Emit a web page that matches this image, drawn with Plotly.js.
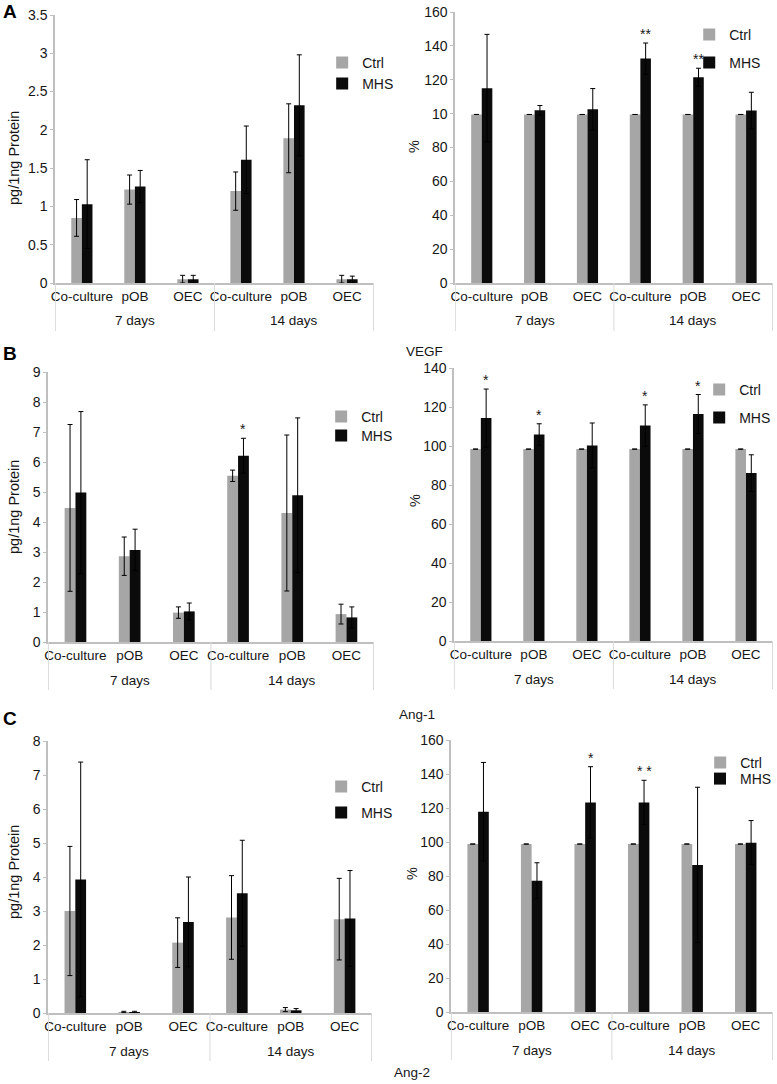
<!DOCTYPE html>
<html>
<head>
<meta charset="utf-8">
<script src="https://cdn.plot.ly/plotly-3.0.1.min.js"></script>
<style>html,body{margin:0;padding:0;background:#fff;}#chart{width:777px;height:1084px;}</style>
</head>
<body>
<div id="chart"></div>
<script>
// ---- categories ----
const days = ['7 days','7 days','7 days','14 days','14 days','14 days'];
const cells = ['Co-culture','pOB','OEC','Co-culture','pOB','OEC'];
const seriesNames = ['Ctrl','MHS'];

// ---- VEGF, pg/1ng protein ----
const vegfPgCtrl    = [0.85, 1.22, 0.05, 1.20, 1.89, 0.05];
const vegfPgCtrlErr = [0.24, 0.19, 0.05, 0.25, 0.45, 0.05];
const vegfPgMhs     = [1.03, 1.26, 0.05, 1.61, 2.32, 0.05];
const vegfPgMhsErr  = [0.58, 0.21, 0.05, 0.44, 0.66, 0.04];
const vegfPgSig     = ['', '', '', '', '', ''];

// ---- VEGF, % ----
const vegfPctCtrl    = [99.5, 99.5, 99.5, 99.5, 99.5, 99.5];
const vegfPctCtrlErr = [0, 0, 0, 0, 0, 0];
const vegfPctMhs     = [115.0, 102.0, 102.6, 132.5, 121.5, 101.8];
const vegfPctMhsErr  = [31.8, 2.8, 12.2, 9.2, 5.3, 10.8];
const vegfPctSig     = ['', '', '', '**', '**', ''];
const vegfPctTickVals = [0, 20, 40, 60, 80, 100, 120, 140, 160];
const vegfPctTickText = ['0', '20', '40', '60', '80', '10', '120', '140', '160'];

// ---- Ang-1, pg/1ng protein ----
const ang1PgCtrl    = [4.47, 2.86, 0.98, 5.54, 4.30, 0.93];
const ang1PgCtrlErr = [2.78, 0.64, 0.19, 0.19, 2.60, 0.33];
const ang1PgMhs     = [4.98, 3.07, 1.02, 6.21, 4.89, 0.82];
const ang1PgMhsErr  = [2.70, 0.69, 0.28, 0.58, 2.58, 0.35];
const ang1PgSig     = ['', '', '', '*', '', ''];

// ---- Ang-1, % ----
const ang1PctCtrl    = [98.4, 98.4, 98.4, 98.4, 98.4, 98.4];
const ang1PctCtrlErr = [0, 0, 0, 0, 0, 0];
const ang1PctMhs     = [114.3, 105.9, 100.3, 110.5, 116.4, 86.1];
const ang1PctMhsErr  = [14.9, 5.5, 11.5, 10.6, 10.0, 9.4];
const ang1PctSig     = ['*', '*', '', '*', '*', ''];

// ---- Ang-2, pg/1ng protein ----
const ang2PgCtrl    = [3.00, 0.03, 2.07, 2.81, 0.10, 2.76];
const ang2PgCtrlErr = [1.90, 0.02, 0.73, 1.23, 0.06, 1.20];
const ang2PgMhs     = [3.93, 0.03, 2.68, 3.52, 0.08, 2.78];
const ang2PgMhsErr  = [3.45, 0.02, 1.32, 1.56, 0.05, 1.41];
const ang2PgSig     = ['', '', '', '', '', ''];

// ---- Ang-2, % ----
const ang2PctCtrl    = [98.8, 98.8, 98.8, 98.8, 98.8, 98.8];
const ang2PctCtrlErr = [0, 0, 0, 0, 0, 0];
const ang2PctMhs     = [117.8, 77.2, 123.3, 123.3, 86.5, 99.6];
const ang2PctMhsErr  = [29.0, 10.6, 21.0, 13.0, 45.7, 13.0];
const ang2PctSig     = ['', '', '*', '* *', '', ''];

// ---- text ----
const panelLetters = ['A', 'B', 'C'];
const rowTitles = ['VEGF', 'Ang-1', 'Ang-2'];
const yTitlePg = 'pg/1ng Protein';
const yTitlePct = '%';

// ---- styling / layout (not data) ----
const W = 777, H = 1084;
const FONT = 'Liberation Sans, Arial, sans-serif';
const TXT = '#161616';
const CTRL_COLOR = '#a6a6a6';
const MHS_COLOR = '#0b0b0b';
const AXIS_COLOR = '#bfbfbf';
const DIV_COLOR = '#d9d9d9';
const BARGAP = 0.6;
const TICK_SIZE = 14, CAT_SIZE = 13.5, LEG_SIZE = 14, TITLE_SIZE = 14.5;

function px(x) { return x / W; }
function py(y) { return 1 - y / H; }

// unique category keys (day + cell), shown with the cell name only
const catKeys = cells.map((c, i) => days[i] + ' ' + c);

// day groups derived from the days array
function dayGroups() {
  const groups = [];
  days.forEach((d, i) => {
    const last = groups[groups.length - 1];
    if (last && last.name === d) last.end = i; else groups.push({name: d, start: i, end: i});
  });
  return groups;
}

const panels = [
  {ctrl: vegfPgCtrl, ctrlErr: vegfPgCtrlErr, mhs: vegfPgMhs, mhsErr: vegfPgMhsErr, sig: vegfPgSig,
   range: [0, 3.5], dtick: 0.5, title: yTitlePg, titlePos: [14, 158],
   box: {x0: 55, x1: 375, yTop: 15, yBot: 283},
   leg: [{tx: 363, cy: 63}, {tx: 363, cy: 84}]},
  {ctrl: vegfPctCtrl, ctrlErr: vegfPctCtrlErr, mhs: vegfPctMhs, mhsErr: vegfPctMhsErr, sig: vegfPctSig,
   range: [0, 160], tickvals: vegfPctTickVals, ticktext: vegfPctTickText, title: yTitlePct, titlePos: [415, 146],
   box: {x0: 456, x1: 775, yTop: 12, yBot: 283},
   leg: [{tx: 731, cy: 35}, {tx: 731, cy: 63}]},
  {ctrl: ang1PgCtrl, ctrlErr: ang1PgCtrlErr, mhs: ang1PgMhs, mhsErr: ang1PgMhsErr, sig: ang1PgSig,
   range: [0, 9], dtick: 1, title: yTitlePg, titlePos: [14, 507],
   box: {x0: 48, x1: 375, yTop: 372, yBot: 642},
   leg: [{tx: 362, cy: 417}, {tx: 362, cy: 436}]},
  {ctrl: ang1PctCtrl, ctrlErr: ang1PctCtrlErr, mhs: ang1PctMhs, mhsErr: ang1PctMhsErr, sig: ang1PctSig,
   range: [0, 140], dtick: 20, title: yTitlePct, titlePos: [416, 500],
   box: {x0: 455, x1: 775, yTop: 368, yBot: 641},
   leg: [{tx: 741, cy: 390}, {tx: 741, cy: 418}]},
  {ctrl: ang2PgCtrl, ctrlErr: ang2PgCtrlErr, mhs: ang2PgMhs, mhsErr: ang2PgMhsErr, sig: ang2PgSig,
   range: [0, 8], dtick: 1, title: yTitlePg, titlePos: [14, 872],
   box: {x0: 48, x1: 373, yTop: 741, yBot: 1013},
   leg: [{tx: 362, cy: 787}, {tx: 362, cy: 813}]},
  {ctrl: ang2PctCtrl, ctrlErr: ang2PctCtrlErr, mhs: ang2PctMhs, mhsErr: ang2PctMhsErr, sig: ang2PctSig,
   range: [0, 160], dtick: 20, title: yTitlePct, titlePos: [413, 873],
   box: {x0: 452, x1: 775, yTop: 740, yBot: 1012},
   leg: [{tx: 742, cy: 763}, {tx: 742, cy: 779}]}
];

const traces = [];
const layout = {
  width: W, height: H,
  margin: {l: 0, r: 0, t: 0, b: 0},
  paper_bgcolor: '#fff', plot_bgcolor: 'rgba(0,0,0,0)',
  barmode: 'group', bargap: BARGAP, bargroupgap: 0,
  font: {family: FONT, size: TICK_SIZE, color: TXT},
  annotations: [], shapes: [], showlegend: true
};

let legIdx = 0;
panels.forEach((p, i) => {
  const n = i + 1;
  const xa = 'x' + (n === 1 ? '' : n), ya = 'y' + (n === 1 ? '' : n);
  const xk = 'xaxis' + (n === 1 ? '' : n), yk = 'yaxis' + (n === 1 ? '' : n);
  const series = [
    {name: seriesNames[0], y: p.ctrl, err: p.ctrlErr, color: CTRL_COLOR},
    {name: seriesNames[1], y: p.mhs, err: p.mhsErr, color: MHS_COLOR}
  ];
  series.forEach((s, k) => {
    legIdx++;
    const lk = 'legend' + (legIdx === 1 ? '' : legIdx);
    traces.push({
      type: 'bar', name: s.name, x: catKeys, y: s.y,
      xaxis: xa, yaxis: ya, legend: lk,
      marker: {color: s.color, line: {width: 0}},
      error_y: {type: 'data', array: s.err, visible: true, color: '#000', thickness: 1, width: 2.5},
      hoverinfo: 'skip'
    });
    const L = p.leg[k];
    layout[lk] = {
      x: px(L.tx - 40), xanchor: 'left',
      y: py(L.cy), yanchor: 'middle',
      bgcolor: 'rgba(0,0,0,0)', borderwidth: 0,
      font: {family: FONT, size: LEG_SIZE, color: TXT},
      itemwidth: 30
    };
  });
  layout[xk] = {
    type: 'category', anchor: ya,
    domain: [px(p.box.x0), px(p.box.x1)],
    tickmode: 'array', tickvals: catKeys, ticktext: cells,
    showline: true, linecolor: AXIS_COLOR, linewidth: 1.5,
    ticks: '', tickangle: 0,
    tickfont: {family: FONT, size: CAT_SIZE, color: TXT},
    showgrid: false, zeroline: false, fixedrange: true
  };
  const yax = {
    anchor: xa, domain: [py(p.box.yBot), py(p.box.yTop)],
    range: p.range, autorange: false,
    showline: true, linecolor: AXIS_COLOR, linewidth: 1.5,
    ticks: 'outside', ticklen: 3, tickcolor: AXIS_COLOR,
    tickfont: {family: FONT, size: TICK_SIZE, color: TXT},
    showgrid: false, zeroline: false, fixedrange: true
  };
  if (p.tickvals) { yax.tickmode = 'array'; yax.tickvals = p.tickvals; yax.ticktext = p.ticktext; }
  else { yax.dtick = p.dtick; yax.tick0 = 0; }
  layout[yk] = yax;

  // y-axis title
  layout.annotations.push({
    xref: 'paper', yref: 'paper', x: px(p.titlePos[0]), y: py(p.titlePos[1]),
    text: p.title, textangle: -90, showarrow: false, xanchor: 'center', yanchor: 'middle',
    font: {family: FONT, size: TITLE_SIZE, color: TXT}
  });

  // outer (day) labels and dividers under the category axis
  const groups = dayGroups();
  groups.forEach(g => {
    layout.annotations.push({
      xref: xa, yref: 'paper', x: (g.start + g.end) / 2, y: py(p.box.yBot + 38),
      text: g.name, showarrow: false, xanchor: 'center', yanchor: 'middle',
      font: {family: FONT, size: CAT_SIZE, color: TXT}
    });
  });
  const divs = [groups[0].start - 0.5].concat(groups.map(g => g.end + 0.5));
  divs.forEach(xv => {
    layout.shapes.push({
      type: 'line', xref: xa, yref: 'paper', x0: xv, x1: xv,
      y0: py(p.box.yBot), y1: py(p.box.yBot + 48),
      line: {color: DIV_COLOR, width: 1}
    });
  });

  // significance stars above MHS bars (MHS bar sits at +quarter of group width)
  const mhsOffset = (1 - BARGAP) / 4;
  p.sig.forEach((s, j) => {
    if (!s) return;
    layout.annotations.push({
      xref: xa, yref: ya, x: j + mhsOffset, y: p.mhs[j] + p.mhsErr[j],
      text: s, showarrow: false, yanchor: 'bottom', xanchor: 'center',
      font: {family: FONT, size: 14, color: TXT}, yshift: -1
    });
  });
});

// panel letters
const letterY = [12, 353, 718];
panelLetters.forEach((t, i) => {
  layout.annotations.push({
    xref: 'paper', yref: 'paper', x: px(10), y: py(letterY[i]),
    text: '<b>' + t + '</b>', showarrow: false, xanchor: 'center', yanchor: 'middle',
    font: {family: 'Liberation Sans, Arial, sans-serif', size: 19, color: '#000'}
  });
});
// row titles
const titlePos = [[426, 351], [418, 714], [413, 1072]];
rowTitles.forEach((t, i) => {
  layout.annotations.push({
    xref: 'paper', yref: 'paper', x: px(titlePos[i][0]), y: py(titlePos[i][1]),
    text: t, showarrow: false, xanchor: 'center', yanchor: 'middle',
    font: {family: FONT, size: CAT_SIZE, color: TXT}
  });
});

Plotly.newPlot('chart', traces, layout, {staticPlot: true, displayModeBar: false});
</script>
</body>
</html>
